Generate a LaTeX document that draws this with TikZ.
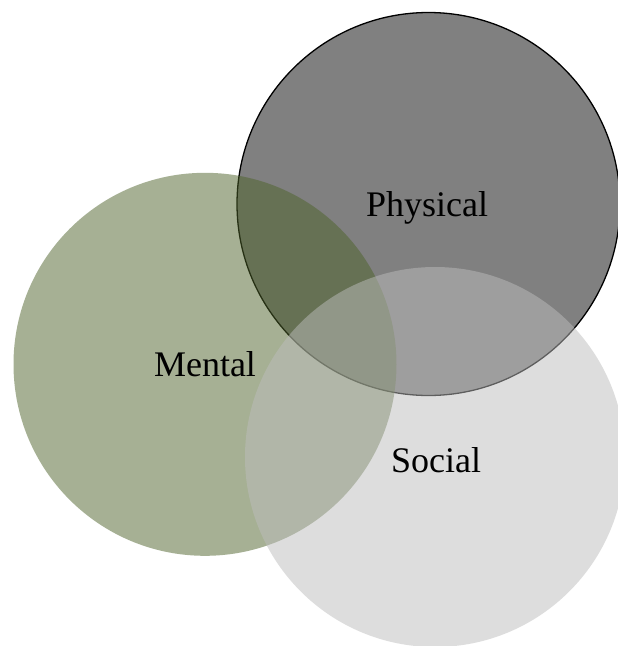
\documentclass[tikz,border=0pt]{standalone}
\usepackage{fontspec}
\setmainfont{Liberation Serif}
\definecolor{physgray}{RGB}{128,128,128}
\definecolor{mentgreen}{RGB}{78,99,42}
\definecolor{socgray}{RGB}{189,189,189}
\begin{document}
\begin{tikzpicture}[x=1pt,y=-1pt,
  venn/.style={circle, minimum size=383pt, inner sep=0pt, outer sep=0pt},
  lbl/.style={anchor=base, inner sep=0pt, font=\fontsize{36}{40}\selectfont, text=black}]
\useasboundingbox (0,0) rectangle (618,646);
\fill[white] (0,0) rectangle (618,646);
\clip (0,0) rectangle (618,646);
\node[venn, fill=physgray, draw=black, line width=1.3pt] (phys) at (428.5,204) {};
\node[venn, fill=mentgreen, fill opacity=0.5] (ment) at (205,364.3) {};
\node[venn, minimum size=380pt, fill=socgray, fill opacity=0.5] (soc) at (435,457) {};
\node[lbl] (tphys) at (427,216.7) {Physical};
\node[lbl] (tment) at (205,376.7) {Mental};
\node[lbl] (tsoc) at (436,472.3) {Social};
\end{tikzpicture}
\end{document}
